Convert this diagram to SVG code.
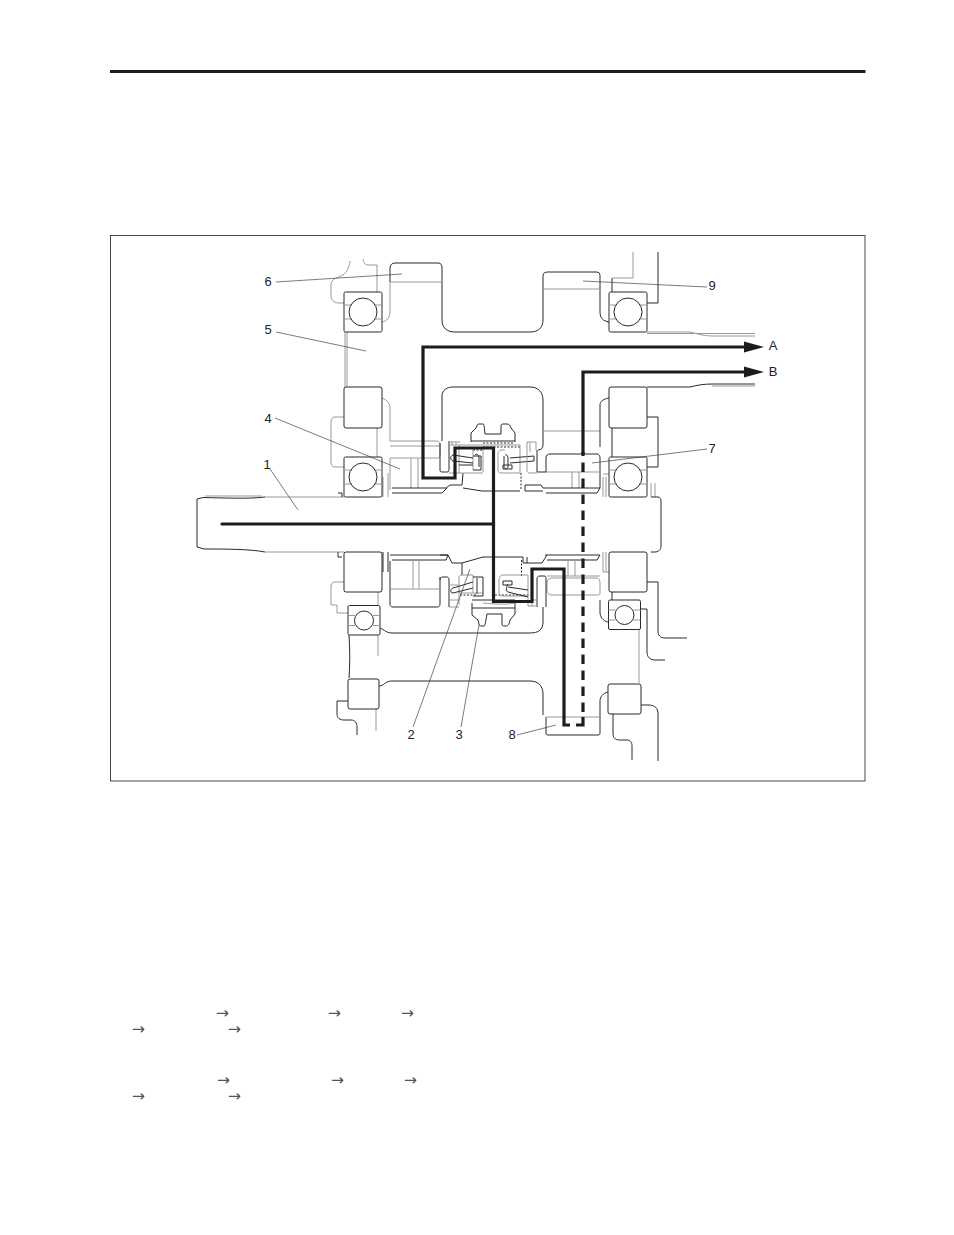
<svg xmlns="http://www.w3.org/2000/svg" width="954" height="1235" viewBox="0 0 954 1235">
<style>
.d{fill:none;stroke:#2a2a2a;stroke-width:1;stroke-linejoin:round}
.g{fill:none;stroke:#999;stroke-width:1;stroke-linejoin:round}
.f{fill:#fff;stroke:#2a2a2a;stroke-width:1}
.l{fill:none;stroke:#444;stroke-width:.7}
.p{fill:none;stroke:#1c1c1c;stroke-width:3.200}
.t{font-family:"Liberation Sans",Arial,sans-serif;font-size:13px;fill:#222;text-anchor:middle}
.a{font-family:"DejaVu Sans",sans-serif;font-size:15.500px;fill:#555}
</style>
<defs>
<marker id="head" markerUnits="userSpaceOnUse" markerWidth="20" markerHeight="12" refX="2" refY="6" orient="auto"><path d="M0 .5L20 6L0 11.500Z" fill="#1c1c1c"/></marker>
<g id="bb"><rect x="-19" y="-20" width="38" height="40" rx="1.500" class="f"/><path class="g" d="M-19-7H-11M-19 7H-11M19-7H11M19 7H11"/><circle r="14" class="d" stroke="#444"/></g>
<g id="bs"><rect x="-16" y="-15" width="32" height="29.500" rx="1.500" class="f"/><path class="g" d="M-16-5H-9M-16 5H-9M16-5H9M16 5H9"/><circle r="9.500" class="d"/></g>
</defs>
<rect id="rule" x="110" y="70" width="755.500" height="3" fill="#1c1c1c"/>
<rect id="frame" x="110.500" y="235.500" width="754.500" height="545.500" fill="#fff" stroke="#333" stroke-width=".9"/>

<g id="housing">
<path class="g" d="M350 261C349 268 347 272 343 275C338 278 332 278 331 284V297C332 301 335 303 339 303H344"/>
<path class="g" d="M363 259C364 263 365 265 368 265H377V292"/>
<path class="g" d="M345 332V387M347 332V387"/>
<path class="g" d="M344 417H335C332 417 331 419 331 422V463C331 466 333 467 336 467H344M377 428V457"/>
<path class="g" d="M382 398C387 400 390 403 390 408V441"/>
<path class="d" d="M658 252V303H647M612 292V278"/>
<path class="g" d="M612 278H633V252"/>
<path class="g" d="M647 332H690C698 334 704 336 712 336H755M647 333.500H755"/>
<path class="d" d="M647 387H690C698 385 704 384 712 384H755"/><path class="g" d="M712 386H755"/>
<path class="d" d="M612 428V457M647 417H658V467H647"/>
<path class="g" d="M344 582H335C332 582 331 584 331 587V605H337V613H348"/>
<path class="g" d="M378 592V656M376 709V731"/>
<path class="d" d="M349 635C350 650 350 665 349 678M348 701H337V714C337 718 340 720 344 720H351C355 720 357 723 357 727V735"/>
<path class="d" d="M647 582H658V631C658 635 660 638 665 638H687"/>
<path class="d" d="M641 609H647V652C647 657 650 660 655 660H665"/>
<path class="g" d="M639 630V683"/>
<path class="d" d="M641 705H648C655 705 658 708 658 714V761"/>
<path class="d" d="M613 714V733C613 738 615 740 620 740H627C630 740 632 742 632 746V760"/>
<path class="d" d="M612 592V600M600 600V612C600 617 603 621 608 622"/>
</g>

<g id="part-1">
<path class="d" d="M265 497C250 499 225 498 203 497.500L197 499V547L204 549C225 549 250 549 265 552"/>
<path class="g" d="M205 496H262M265 497H344M265 552H344"/>
<path class="g" d="M651 483V497M655 483V497"/>
<path class="d" d="M651 497H658C660 497 661 499 661 501V546C661 550 658 552 655 552H651"/>
<path class="d" d="M338 493H342V497M338 552V557H342"/>
</g>

<g id="part-6">
<path class="g" d="M390 282V311C390 318 387 321 382 322"/>
<path class="d" d="M390 282V268C390 265 392 263 395 263H438C441 263 442 265 442 268V320C442 328 447 332 455 332H530C538 332 543 328 543 320"/>
<path class="g" d="M390 282H442"/>
</g>
<g id="part-9">
<path class="d" d="M543 320V276C543 273 545 272 548 272H596C599 272 600 273 600 276V312C600 318 603 321 609 322"/>
<path class="g" d="M543 289H600"/>
</g>
<g id="part-5">
<path class="d" d="M442 441V396C442 390 447 387 453 387H530C538 387 543 392 543 400V445C543 448 541 450 538 450"/>
<path class="g" d="M543 431H600"/><path class="d" d="M600 447V405C600 401 604 399 609 398"/>
</g>

<g id="part-4">
<path class="g" d="M390 441H437C439 441 440 443 440 445V456C440 458 439 458 437 458H390"/>
<path class="g" d="M390 446H440"/>
<path class="g" d="M411 458V488M418 458V488M390 458V490"/>
<path class="d" d="M440 443V470C440 472 441 472 443 472H447C449 472 449 471 449 469V441"/>
<path class="d" d="M392 488H447M392 493H442L447 488"/>
<path class="g" d="M383 477V497M388 473V497"/>
<path class="g" d="M449 442H460M449 445H460M452 442V445M456 442V445"/>
</g>

<g id="part-7">
<path class="d" d="M546 458C546 455 548 454 550 454H597C599 454 600 456 600 458V488"/>
<path class="g" d="M546 472H600"/><path class="d" d="M546 458V472M537 472H546M537 450V472"/>
<path class="g" d="M572 472V488M579 472V488"/>
<path class="d" d="M543 488H600M546 493H597L600 488"/>
<path class="g" d="M603 477V497M606 477V497M609 474H603"/>
</g>

<g id="part-lower">
<path class="d" d="M390 555H448M392 560H446L448 555"/>
<path class="d" d="M390 561V604C390 606 391 607 393 607H437C439 607 440 606 440 604V577"/>
<path class="g" d="M390 589H440M413 561V589M419 561V589"/>
<path class="d" d="M440 580C440 578 441 577 443 577H447C448 577 449 578 449 580V607"/>
<path class="d" d="M383 552V572M388 552V572"/>
<path class="d" d="M545 555H600M547 560H597L600 555"/>
<path class="g" d="M547 583C547 580 549 578 552 578H597C599 578 600 580 600 583V593C600 595 599 595 597 595H552C549 595 547 593 547 591Z"/>
<path class="g" d="M547 576H600M568 560V576M575 560V576"/>
<path class="d" d="M537 607V579C537 577 538 576 540 576H544C546 576 546 577 546 579V607"/>
<path class="g" d="M603 552V572M606 552V572M609 572H603"/>
<path class="d" d="M379 628C383 628 385 633 392 633H530C538 633 543 630 543 622V607"/>
</g>
<g id="part-8">
<path class="d" d="M379 686C384 686 385 681 392 681H530C538 681 543 686 543 694V715"/>
<path class="d" d="M546 717V733C546 735 547 735 549 735H598C600 735 600 734 600 732V701C600 697 603 693 608 692"/>
<path class="g" d="M546 717H600"/>
</g>

<g id="part-3">
<path class="d" d="M471 442V433L476 428L477 426C477 424 478 424 480 424H483C484 424 484 425 485 434H501V426C501 424 502 424 504 424H507C509 424 510 425 511 428L515 433V442"/>
<path class="d" d="M471 441H515"/><path class="g" d="M460 445H520"/>
<path class="d" d="M472 603V615L478 620L479 624C479 626 480 626 482 626H484C485 626 485 625 487 614H502V624C502 626 503 626 505 626H506C508 626 509 625 510 620L515 614V603"/>
<path class="d" d="M472 600H515M472 608H515"/><path class="g" d="M483 603C495 604 505 605 515 603"/>
</g>

<g id="part-2">
<path class="d" d="M446 488L450 485H462L463 473M463 488L482 491H520M525 485H541L543 488M525 491H543M525 485V491"/>
<path class="d" d="M440 555H448L452 563H462L483 557H523V563H527H542L547 555M527 557V563"/>
<path class="d" d="M462 563V575"/>
<path class="d" stroke-dasharray="2 1.500" d="M521 473V490M521.500 560V577M460 595H477M495 595H530M483 443H513M483 447H520M473 450H483"/>

<path class="g" d="M459 445V473H483M473 448V470M483 448V472M449 473H459"/>
<path class="d" d="M473 456H481V470H473"/>
<path class="d" d="M453 455C450 456 450 460 453 461L473 463M453 455L473 458M459 465H473"/>
<path class="d" d="M475 455C477 453 479 455 479 458V467"/>

<path class="g" d="M498 453C498 451 500 450 503 450H505M498 453V470C498 472 499 473 501 473H520M520 445V473"/>
<path class="d" d="M505 455C507 454 508 456 508 459V466C508 469 505 470 504 467V456"/>
<path class="d" d="M510 458L534 456V461L510 463"/>
<path class="d" d="M503 465H512V469H503Z"/>
<path class="g" d="M527 442V470C527 472 528 473 530 473H537M530 442V452M527 442H536V450"/>

<path class="g" d="M459 578C459 576 460 575 462 575H473M459 578V605M473 575V593M449 585H459M449 600H459M449 607H459M459 593H483"/>
<path class="d" d="M453 588C450 589 450 593 453 593L473 588M453 588L473 582"/>
<path class="d" d="M473 577H483V596H473"/>
<path class="d" d="M477 578V594"/>

<path class="g" d="M499 581C499 578 500 575 503 575H528M499 581V593C499 595 500 596 502 596H528M528 575V606"/>
<path class="d" d="M508 587L528 590M508 592L528 597"/>
<path class="d" d="M503 581H512V585H503Z"/>
<path class="d" d="M508 584C506 586 506 592 508 592"/>
<path class="g" d="M532 592V606M528 606H537M532 600H537"/>
<path class="g" d="M537 578V607"/>
</g>

<g id="bearings">
<use href="#bb" x="363" y="312"/>
<rect x="344" y="387" width="38" height="41" rx="2" class="f"/>
<use href="#bb" x="363" y="477"/>
<use href="#bb" x="628" y="312"/>
<rect x="609" y="387" width="38" height="41" rx="2" class="f"/>
<use href="#bb" x="628" y="477"/>
<rect x="344" y="552" width="38" height="40" rx="2" class="f"/>
<use href="#bs" x="364" y="620.500"/>
<rect x="348" y="679" width="31" height="30" rx="2" class="f"/>
<rect x="609" y="552" width="38" height="40" rx="2" class="f"/>
<use href="#bs" x="624.500" y="615"/>
<rect x="608" y="684" width="33" height="30" rx="2" class="f"/>
</g>

<g id="connectors">
<path class="p" stroke-linecap="round" d="M222 524H493.500V448H455V478H423V347H746" marker-end="url(#head)"/>
<path class="p" d="M493.500 524V601.500H532V569H564V725H570"/>
<path class="p" d="M576 725H583V717"/>
<path class="p" stroke-dasharray="9.500 6.500" d="M583 712V452"/>
<path class="p" d="M583 454V372H746" marker-end="url(#head)"/>
<path class="l" d="M276 282L402 274M276 332L366 351M275 418L400 469M270 469L298 510M413 727L470 569M461 727L479 625M517 735L556 725M707 449L592 463M707 287L583 281"/>
</g>

<g id="labels">
<text class="t" x="268" y="286">6</text>
<text class="t" x="268" y="334">5</text>
<text class="t" x="268" y="423">4</text>
<text class="t" x="267" y="469">1</text>
<text class="t" x="411" y="739">2</text>
<text class="t" x="459" y="739">3</text>
<text class="t" x="512" y="739">8</text>
<text class="t" x="712" y="453">7</text>
<text class="t" x="712" y="290">9</text>
<text class="t" x="773" y="350">A</text>
<text class="t" x="773" y="376">B</text>
</g>

<g id="flow-arrows">
<text class="a" x="216" y="1018">→</text><text class="a" x="328" y="1018">→</text><text class="a" x="401" y="1018">→</text>
<text class="a" x="132" y="1034">→</text><text class="a" x="228" y="1034">→</text>
<text class="a" x="217" y="1085">→</text><text class="a" x="331" y="1085">→</text><text class="a" x="404" y="1085">→</text>
<text class="a" x="132" y="1101">→</text><text class="a" x="228" y="1101">→</text>
</g>
</svg>
